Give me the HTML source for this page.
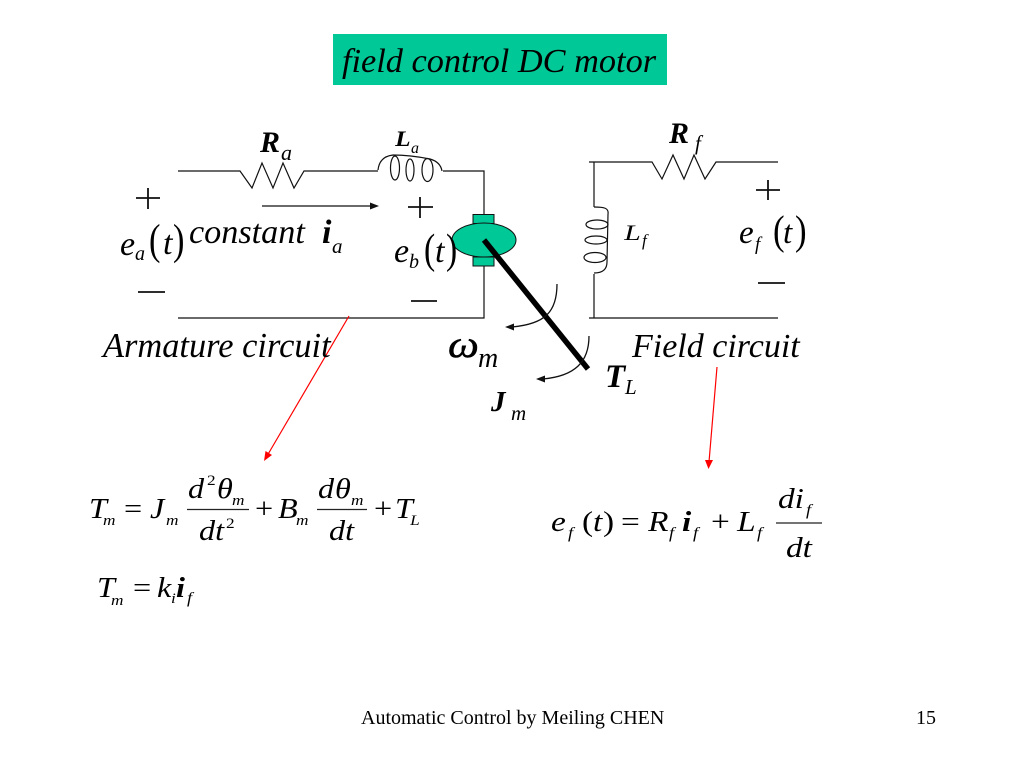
<!DOCTYPE html>
<html><head><meta charset="utf-8"><style>
html,body{margin:0;padding:0;background:#fff;width:1024px;height:768px;overflow:hidden}
svg{display:block}
text{font-family:"Liberation Serif","DejaVu Serif",serif;fill:#000}
.i{font-style:italic}
.b{font-style:italic;font-weight:bold}
.s{transform-box:fill-box;transform-origin:0 100%;transform:scaleX(1.15)}
.w{transform-box:fill-box;transform-origin:0 100%;transform:scaleX(1.35)}
</style></head><body>
<svg width="1024" height="768" viewBox="0 0 1024 768" xmlns="http://www.w3.org/2000/svg">
<rect x="333" y="34" width="334" height="51" fill="#00C896"/>
<text class="i" x="342" y="72" font-size="34.300">field control DC motor</text>

<g fill="none" stroke="#111" stroke-width="1.2">
<path d="M178 171H240L252 188L262 163L273 188L283 163L294 188L304 171H378"/>
<path d="M443 171H484V215M484 262V318H178"/>
<path d="M378 170C379 161 384 156 393 155C405 155 420 157 430 159C437 161 441 165 442 171"/>
<ellipse cx="395" cy="168" rx="4.500" ry="12"/>
<ellipse cx="410" cy="170" rx="4" ry="11"/>
<ellipse cx="427.500" cy="170" rx="5.500" ry="11.500"/>
<path d="M589 162H652L662 179L673 155L684 179L694 155L705 179L716 162H778"/>
<path d="M594 162V207M594 274V318M589 318H778"/>
<path d="M594 207C604 207 609 208 608 214L607 262C607 270 602 273 594 273"/>
<ellipse cx="597" cy="224.500" rx="11" ry="4.500"/>
<ellipse cx="596" cy="240" rx="11" ry="4"/>
<ellipse cx="595" cy="257.500" rx="11" ry="5"/>
</g>

<path d="M262 206H372" stroke="#111" stroke-width="1.300" fill="none"/>
<path d="M379 206L370 202.500V209.500Z" fill="#111"/>

<g fill="#00C896" stroke="#111" stroke-width="1">
<rect x="473" y="214.500" width="21" height="9"/>
<rect x="473" y="257" width="21" height="9"/>
<ellipse cx="484" cy="240" rx="32" ry="17"/>
</g>
<path d="M484 240L588 369" stroke="#000" stroke-width="5.500" fill="none"/>

<g fill="none" stroke="#111" stroke-width="1.300">
<path d="M557 284C557 312 545 324 512 327"/>
<path d="M589 336C589 362 575 376 543 379"/>
</g>
<path d="M505 327L514 323.500L514 330.500Z" fill="#111"/>
<path d="M536 379L545 375.500L545 382.500Z" fill="#111"/>

<path d="M349 316L267 456" stroke="#f00" stroke-width="1.200" fill="none"/>
<path d="M264 461L265.500 451L272 455Z" fill="#f00"/>
<path d="M717 367L709 462" stroke="#f00" stroke-width="1.200" fill="none"/>
<path d="M708.500 469L705 460H713Z" fill="#f00"/>

<g stroke="#111" stroke-width="1.800" fill="none">
<path d="M136 198H160M148 188V209"/>
<path d="M408 207H433M420 197V218"/>
<path d="M756 190H780M768 180V200"/>
<path d="M138 292H165M411 301H437M758 283H785"/>
</g>

<text class="b" x="260" y="152" font-size="30">R</text>
<text class="i" x="281" y="160" font-size="22">a</text>
<text class="b s" x="395" y="146" font-size="22">L</text>
<text class="i" x="411" y="153" font-size="16">a</text>
<text class="b" x="669" y="143" font-size="30">R</text>
<text class="i" x="695" y="150" font-size="21">f</text>
<text class="i w" x="624" y="240" font-size="22">L</text>
<text class="i" x="642" y="246" font-size="17">f</text>

<text class="i" x="120" y="255" font-size="34">e</text>
<text class="i" x="135" y="260" font-size="20">a</text>
<text x="149" y="254" font-size="43" transform="translate(149 0) scale(.8 1) translate(-149 0)">(</text>
<text class="i" x="163" y="254" font-size="34">t</text>
<text x="173" y="254" font-size="43" transform="translate(173 0) scale(.8 1) translate(-173 0)">)</text>

<text class="i" x="189" y="243" font-size="34.200">constant</text>
<text class="b" x="322" y="243" font-size="34">i</text>
<text class="i" x="332" y="253" font-size="21">a</text>

<text class="i" x="394" y="262" font-size="34">e</text>
<text class="i" x="409" y="268" font-size="20">b</text>
<text x="424" y="263" font-size="42" transform="translate(424 0) scale(.8 1) translate(-424 0)">(</text>
<text class="i" x="435" y="262" font-size="34">t</text>
<text x="446" y="263" font-size="42" transform="translate(446 0) scale(.8 1) translate(-446 0)">)</text>

<text class="i" x="739" y="243" font-size="33">e</text>
<text class="i" x="755" y="250" font-size="19">f</text>
<text x="773" y="244" font-size="41" transform="translate(773 0) scale(.85 1) translate(-773 0)">(</text>
<text class="i" x="783" y="243" font-size="33">t</text>
<text x="795" y="244" font-size="41" transform="translate(795 0) scale(.85 1) translate(-795 0)">)</text>

<text class="i" x="103" y="357" font-size="34.400">Armature circuit</text>
<text class="i" x="632" y="357" font-size="34">Field circuit</text>

<text class="i s" x="448" y="357" font-size="38" stroke="#000" stroke-width=".5">ω</text>
<text class="i" x="478" y="367" font-size="28">m</text>
<text class="b" x="605" y="387" font-size="33">T</text>
<text class="i" x="625" y="394" font-size="21">L</text>
<text class="b" x="491" y="411" font-size="29">J</text>
<text class="i" x="511" y="420" font-size="21">m</text>

<text class="i s" x="89" y="518" font-size="28">T</text>
<text class="i s" x="103" y="525" font-size="15">m</text>
<text class="s" x="124" y="518" font-size="28">=</text>
<text class="i s" x="150" y="518" font-size="28">J</text>
<text class="i s" x="166" y="525" font-size="15">m</text>
<text class="i s" x="188" y="498" font-size="28">d</text>
<text class="s" x="207" y="485" font-size="15">2</text>
<text class="i s" x="217" y="498" font-size="28">θ</text>
<text class="i s" x="232" y="505" font-size="15">m</text>
<path d="M187 509.500H249M317 509.500H367M776 523H822" stroke="#222" stroke-width="1.300" fill="none"/>
<text class="i s" x="199" y="540" font-size="28">dt</text>
<text class="s" x="226" y="528" font-size="15">2</text>
<text class="s" x="255" y="518" font-size="28">+</text>
<text class="i s" x="278" y="518" font-size="28">B</text>
<text class="i s" x="296" y="525" font-size="15">m</text>
<text class="i s" x="318" y="498" font-size="28">d</text>
<text class="i s" x="335" y="498" font-size="28">θ</text>
<text class="i s" x="351" y="505" font-size="15">m</text>
<text class="i s" x="329" y="540" font-size="28">dt</text>
<text class="s" x="374" y="518" font-size="28">+</text>
<text class="i s" x="395" y="518" font-size="28">T</text>
<text class="i s" x="410" y="525" font-size="15">L</text>

<text class="i s" x="97" y="597" font-size="28">T</text>
<text class="i s" x="111" y="605" font-size="15">m</text>
<text class="s" x="133" y="597" font-size="28">=</text>
<text class="i s" x="157" y="597" font-size="28">k</text>
<text class="i s" x="171" y="603" font-size="15">i</text>
<text class="b s" x="176" y="597" font-size="28">i</text>
<text class="i s" x="187" y="603" font-size="16">f</text>

<text class="i s" x="551" y="531" font-size="29">e</text>
<text class="i s" x="568" y="538" font-size="16">f</text>
<text class="s" x="582" y="531" font-size="29">(</text>
<text class="i s" x="593" y="531" font-size="29">t</text>
<text class="s" x="603" y="531" font-size="29">)</text>
<text class="s" x="621" y="531" font-size="29">=</text>
<text class="i s" x="648" y="531" font-size="29">R</text>
<text class="i s" x="669" y="538" font-size="16">f</text>
<text class="b s" x="682" y="531" font-size="29">i</text>
<text class="i s" x="693" y="538" font-size="16">f</text>
<text class="s" x="711" y="531" font-size="29">+</text>
<text class="i s" x="737" y="531" font-size="29">L</text>
<text class="i s" x="757" y="538" font-size="16">f</text>
<text class="i s" x="778" y="508" font-size="29">di</text>
<text class="i s" x="806" y="515" font-size="16">f</text>
<text class="i s" x="786" y="557" font-size="29">dt</text>

<text x="361" y="724" font-size="20">Automatic Control by Meiling CHEN</text>
<text x="916" y="724" font-size="20">15</text>
</svg>
</body></html>
